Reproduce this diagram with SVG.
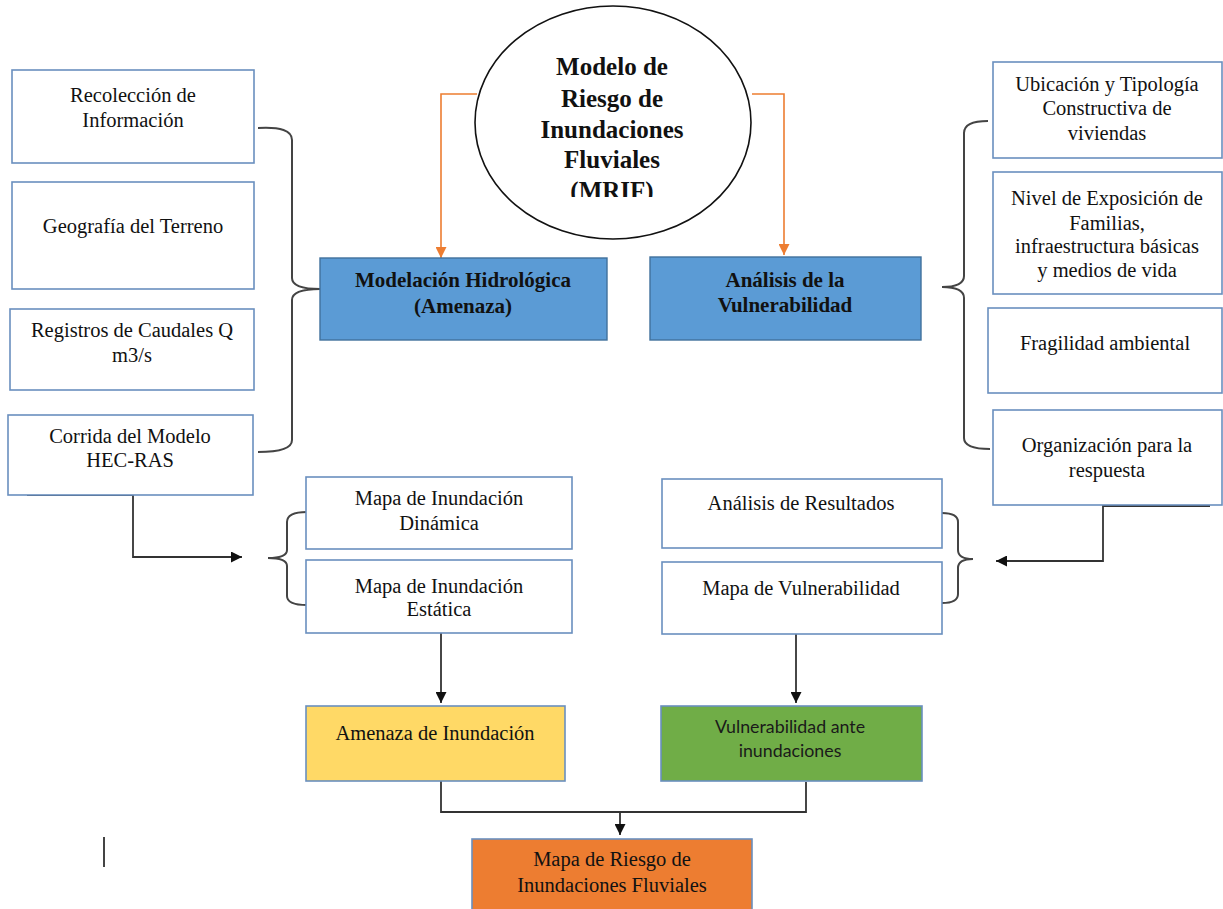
<svg xmlns="http://www.w3.org/2000/svg" width="1223" height="909" viewBox="0 0 1223 909">
<style>
.bx{fill:#fff;stroke:#6a8fbf;stroke-width:1.6}
.bl{fill:#5b9bd5;stroke:#41719c;stroke-width:1.4}
.t{font-family:"Liberation Serif","Times New Roman",serif;font-size:20.5px;fill:#111;text-anchor:middle}
.tb{font-family:"Liberation Serif","Times New Roman",serif;font-size:21px;font-weight:bold;fill:#111;text-anchor:middle}
.tt{font-family:"Liberation Serif","Times New Roman",serif;font-size:25px;font-weight:bold;fill:#111;text-anchor:middle}
.ts{font-family:Lato,"Open Sans",sans-serif;font-size:17.8px;fill:#1a1a1a;text-anchor:middle}
.ln{fill:none;stroke:#333;stroke-width:1.8}
.br{fill:none;stroke:#444;stroke-width:2}
.or{fill:none;stroke:#ed7d31;stroke-width:1.6}
</style>
<defs>
<marker id="ab" viewBox="0 0 10 10" refX="10" refY="5" markerWidth="11" markerHeight="11" markerUnits="userSpaceOnUse" orient="auto"><path d="M0,0 L10,5 L0,10 z" fill="#111"/></marker>
<marker id="ao" viewBox="0 0 10 10" refX="10" refY="5" markerWidth="11" markerHeight="11" markerUnits="userSpaceOnUse" orient="auto"><path d="M0,0 L10,5 L0,10 z" fill="#ed7d31"/></marker>
<clipPath id="clipTitle"><rect x="470" y="40" width="290" height="157"/></clipPath>
</defs>

<g id="connectors">
<path class="or" d="M477,94 L441,94 L441,258" marker-end="url(#ao)"/>
<path class="or" d="M752,94 L784,94 L784,255" marker-end="url(#ao)"/>
<path class="br" d="M258,128 Q292,126 292,140 L292,278 Q292,289 320,289 Q292,289 292,300 L292,440 Q292,452 258,452"/>
<path class="br" d="M988,121 Q964,121 964,133 L964,276 Q964,287 942,287 Q964,287 964,298 L964,438 Q964,449 990,449"/>
<path class="br" d="M307,512 Q287,512 287,522 L287,550 Q287,558 268,558 Q287,558 287,566 L287,596 Q287,605 307,605"/>
<path class="br" d="M942,513 Q958,513 958,522 L958,550 Q958,559 973,559 Q958,559 958,568 L958,594 Q958,603 942,603"/>
<path class="ln" d="M27,495 L133,495 L133,557 L242,557" marker-end="url(#ab)"/>
<path class="ln" d="M1210,506 L1103,506 L1103,561 L996,561" marker-end="url(#ab)"/>
<path class="ln" d="M441,633 L441,703" marker-end="url(#ab)"/>
<path class="ln" d="M796,634 L796,703" marker-end="url(#ab)"/>
<path class="ln" d="M441,781 L441,812 L806,812 L806,782"/>
<path class="ln" d="M620,812 L620,835" marker-end="url(#ab)"/>
<line x1="104" y1="837" x2="104" y2="867" stroke="#444" stroke-width="2"/>
</g>

<g id="n-mrif">
<ellipse cx="613" cy="122.5" rx="138" ry="116.5" fill="#fff" stroke="#111" stroke-width="1.6"/>
<g clip-path="url(#clipTitle)">
<text class="tt" x="612" y="75">Modelo de</text>
<text class="tt" x="612" y="107">Riesgo de</text>
<text class="tt" x="612" y="138">Inundaciones</text>
<text class="tt" x="612" y="168">Fluviales</text>
<text class="tt" x="612" y="199">(MRIF)</text>
</g>
</g>

<g id="n-recoleccion"><rect class="bx" x="12" y="70" width="242" height="93"/><text class="t" x="133" y="102">Recolección de</text><text class="t" x="133" y="127">Información</text></g>
<g id="n-geografia"><rect class="bx" x="12" y="182" width="242" height="107"/><text class="t" x="133" y="233">Geografía del Terreno</text></g>
<g id="n-registros"><rect class="bx" x="10" y="309" width="244" height="81"/><text class="t" x="132" y="337">Registros de Caudales Q</text><text class="t" x="132" y="362">m3/s</text></g>
<g id="n-corrida"><rect class="bx" x="8" y="415" width="245" height="80"/><text class="t" x="130" y="443">Corrida del Modelo</text><text class="t" x="130" y="467">HEC-RAS</text></g>

<g id="n-modelacion"><rect class="bl" x="320" y="258" width="287" height="82"/><text class="tb" x="463" y="287">Modelación Hidrológica</text><text class="tb" x="463" y="313">(Amenaza)</text></g>
<g id="n-analisis"><rect class="bl" x="650" y="257" width="271" height="83"/><text class="tb" x="785" y="287">Análisis de la</text><text class="tb" x="785" y="312">Vulnerabilidad</text></g>

<g id="n-ubicacion"><rect class="bx" x="993" y="62" width="229" height="96"/><text class="t" x="1107" y="91">Ubicación y Tipología</text><text class="t" x="1107" y="115">Constructiva de</text><text class="t" x="1107" y="140">viviendas</text></g>
<g id="n-nivel"><rect class="bx" x="993" y="172" width="229" height="122"/><text class="t" x="1107" y="205">Nivel de Exposición de</text><text class="t" x="1107" y="230">Familias,</text><text class="t" x="1107" y="253">infraestructura básicas</text><text class="t" x="1107" y="277">y medios de vida</text></g>
<g id="n-fragilidad"><rect class="bx" x="988" y="308" width="234" height="85"/><text class="t" x="1105" y="350">Fragilidad ambiental</text></g>
<g id="n-organizacion"><rect class="bx" x="993" y="410" width="229" height="95"/><text class="t" x="1107" y="452">Organización para la</text><text class="t" x="1107" y="477">respuesta</text></g>

<g id="n-dinamica"><rect class="bx" x="306" y="477" width="266" height="72"/><text class="t" x="439" y="505">Mapa de Inundación</text><text class="t" x="439" y="530">Dinámica</text></g>
<g id="n-estatica"><rect class="bx" x="306" y="560" width="266" height="73"/><text class="t" x="439" y="593">Mapa de Inundación</text><text class="t" x="439" y="616">Estática</text></g>
<g id="n-resultados"><rect class="bx" x="662" y="479" width="280" height="69"/><text class="t" x="801" y="510">Análisis de Resultados</text></g>
<g id="n-mapavuln"><rect class="bx" x="662" y="562" width="280" height="72"/><text class="t" x="801" y="595">Mapa de Vulnerabilidad</text></g>

<g id="n-amenaza"><rect x="306" y="706" width="259" height="75" fill="#ffd966" stroke="#6a8fbf" stroke-width="1.6"/><text class="t" x="435" y="740">Amenaza de Inundación</text></g>
<g id="n-vulnerabilidad"><rect x="661" y="706" width="261" height="75" fill="#70ad47" stroke="#6a8fbf" stroke-width="1.6"/><text class="ts" x="790" y="733">Vulnerabilidad ante</text><text class="ts" x="790" y="757">inundaciones</text></g>
<g id="n-riesgo"><rect x="472" y="839" width="280" height="75" fill="#ed7d31" stroke="#6a8fbf" stroke-width="1.6"/><text class="t" x="612" y="866">Mapa de Riesgo de</text><text class="t" x="612" y="892">Inundaciones Fluviales</text></g>
</svg>
